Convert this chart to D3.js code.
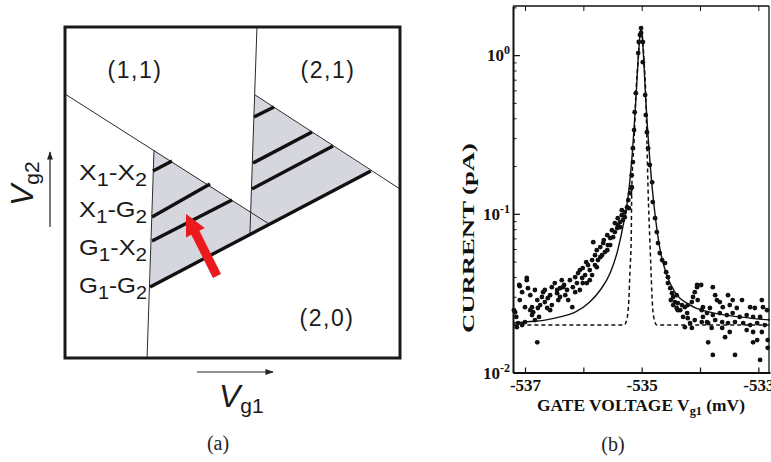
<!DOCTYPE html>
<html><head><meta charset="utf-8">
<script src="https://cdn.jsdelivr.net/npm/d3@7"></script>
<style>body{margin:0;background:#fff;} svg{display:block;}</style>
</head><body>
<svg id="c" width="771" height="462"></svg>
<script>
// ===================== Panel (a): charge-stability schematic (Vg1, Vg2 in arbitrary units 0..10)
const thinLines = [
  [[2.657, 6.284], [2.45, 0]],
  [[0, 7.976], [6.09, 4.05]],
  [[5.73, 10], [5.52, 3.75]],
  [[5.67, 7.95], [10, 5.106]]
];
const thickLines = [
  [[2.54, 2.145], [9.13, 5.65]],
  [[2.627, 5.65], [3.194, 5.95]],
  [[2.597, 4.26], [4.328, 5.257]],
  [[2.597, 3.535], [4.985, 4.773]],
  [[5.642, 7.281], [6.239, 7.583]],
  [[5.612, 5.891], [7.373, 6.828]],
  [[5.582, 5.106], [8.0, 6.405]]
];
const shadedRegions = [
  [[2.657, 6.284], [6.09, 4.05], [2.54, 2.145]],
  [[5.67, 7.95], [9.13, 5.65], [5.52, 3.75]]
];
const chargeStates = ["(1,1)", "(2,1)", "(2,0)"];
const chargeStateVg1 = [2.09, 7.85, 7.82];
const chargeStateVg2 = [8.70, 8.70, 1.21];
const transitionLabels = [["X","1","X","2"], ["X","1","G","2"], ["G","1","X","2"], ["G","1","G","2"]];
const transitionVg2 = [5.38, 4.26, 3.11, 1.96];
const transitionVg1 = 2.45;
const arrowTail = [4.537, 2.477];
const arrowTip = [3.612, 4.35];

// ===================== Panel (b): current vs gate voltage
const xTicksB = [-537, -536, -535, -534, -533];
const xTickLabelsB = [-537, -535, -533];
const yDecades = [0.01, 0.1, 1];
const yDecadeExp = ["-2", "-1", "0"];

const leftTail = [
[-537.19,0.0247],[-537.17,0.0240],[-537.15,0.0224],[-537.14,0.0193],[-537.12,0.0205],[-537.10,0.0356],[-537.09,0.0286],[-537.09,0.0350],[-537.05,0.0199],[-537.05,0.0321],[-537.00,0.0208],[-537.00,0.0258],[-536.97,0.0382],[-536.97,0.0394],[-536.95,0.0340],[-536.91,0.0307],[-536.91,0.0247],[-536.88,0.0258],[-536.88,0.0230],[-536.86,0.0240],[-536.83,0.0331],[-536.83,0.0214],[-536.79,0.0286],[-536.79,0.0155],[-536.78,0.0255],[-536.76,0.0224],[-536.74,0.0266],[-536.71,0.0299],[-536.69,0.0321],[-536.66,0.0278],[-536.66,0.0331],[-536.62,0.0255],[-536.61,0.0294],[-536.57,0.0307],[-536.57,0.0247],[-536.54,0.0266],[-536.54,0.0345],[-536.49,0.0366],[-536.45,0.0316],[-536.45,0.0331],[-536.43,0.0286],[-536.40,0.0340],[-536.40,0.0299],[-536.37,0.0382],[-536.35,0.0345],[-536.33,0.0356],[-536.31,0.0307],[-536.28,0.0331],[-536.26,0.0286],[-536.23,0.0382],[-536.19,0.0258],[-536.18,0.0345],[-536.14,0.0399],[-536.14,0.0321],[-536.11,0.0366],[-536.09,0.0423],[-536.06,0.0331],[-536.06,0.0442],[-536.02,0.0394],[-536.01,0.0455],[-536.01,0.0366],[-535.97,0.0411],[-535.95,0.0496],[-535.94,0.0366],[-535.92,0.0475],[-535.89,0.0442],[-535.89,0.0382],[-535.85,0.0511],[-535.85,0.0411],[-535.83,0.0663],[-535.80,0.0549],[-535.80,0.0475],[-535.77,0.0461],[-535.77,0.0590],[-535.75,0.0511],[-535.71,0.0617],[-535.71,0.0533],[-535.68,0.0549],[-535.66,0.0654],[-535.65,0.0683],[-535.63,0.0574],[-535.59,0.0734],[-535.59,0.0590],[-535.58,0.0635],[-535.54,0.0703],[-535.54,0.0635],[-535.51,0.0789],[-535.49,0.0713],[-535.46,0.0874],[-535.46,0.0767],[-535.42,0.0813],[-535.41,0.0939],[-535.41,0.0850],[-535.37,0.0887],[-535.37,0.0824],[-535.34,0.0981],[-535.34,0.1055],[-535.32,0.0913],[-535.29,0.1025],[-535.29,0.0953],[-535.25,0.110],[-535.23,0.122],[-535.20,0.135],[-535.17,0.147]
];
const peakDots = [
[-535.22,0.1086],[-535.18,0.145],[-535.17,0.175],[-535.15,0.212],[-535.15,0.259],[-535.13,0.337],[-535.12,0.437],[-535.10,0.576],[-535.06,1.03],[-535.05,1.21],[-535.03,1.34],[-535.01,1.48],[-535.01,1.38],[-534.98,1.21],[-534.98,0.903],[-534.94,0.560],[-534.93,0.419],[-534.91,0.327],[-534.89,0.259],[-534.86,0.203],[-534.82,0.158],[-534.81,0.1185],[-534.77,0.0939],[-534.74,0.0767]
];
const rightTail = [
[-534.72,0.0654],[-534.69,0.0566],[-534.65,0.0511],[-534.60,0.0489],[-534.58,0.0429],[-534.55,0.0399],[-534.55,0.0366],[-534.51,0.0340],[-534.50,0.0286],[-534.48,0.0316],[-534.46,0.0299],[-534.46,0.0266],[-534.43,0.0278],[-534.40,0.0307],[-534.40,0.0255],[-534.38,0.0274],[-534.38,0.0247],[-534.34,0.0247],[-534.31,0.0266],[-534.29,0.0224],[-534.26,0.0258],[-534.26,0.0193],[-534.22,0.0237],[-534.21,0.0266],[-534.21,0.0220],[-534.17,0.0205],[-534.14,0.0278],[-534.14,0.0191],[-534.12,0.0299],[-534.09,0.0321],[-534.09,0.0214],[-534.05,0.0345],[-534.05,0.0356],[-534.04,0.0286],[-533.98,0.0356],[-533.97,0.0247],[-533.97,0.0208],[-533.95,0.0224],[-533.95,0.0258],[-533.88,0.0208],[-533.88,0.0237],[-533.86,0.0155],[-533.86,0.0205],[-533.83,0.0255],[-533.80,0.0191],[-533.78,0.0345],[-533.78,0.0230],[-533.78,0.0129],[-533.74,0.0307],[-533.74,0.0214],[-533.71,0.0286],[-533.66,0.0278],[-533.66,0.0237],[-533.62,0.0208],[-533.62,0.0191],[-533.61,0.0258],[-533.57,0.0167],[-533.54,0.0230],[-533.52,0.0307],[-533.52,0.0205],[-533.49,0.0266],[-533.49,0.0180],[-533.44,0.0286],[-533.44,0.0237],[-533.40,0.0208],[-533.40,0.0129],[-533.37,0.0255],[-533.32,0.0224],[-533.28,0.0286],[-533.26,0.0205],[-533.20,0.0230],[-533.20,0.0185],[-533.14,0.0258],[-533.14,0.0199],[-533.09,0.0224],[-533.09,0.0180],[-533.09,0.0155],[-533.06,0.0255],[-533.02,0.0205],[-533.02,0.0160],[-532.97,0.0224],[-532.97,0.0120],[-532.94,0.0286],[-532.94,0.0180],[-532.92,0.0258],[-532.89,0.0199],[-532.85,0.0247],[-532.84,0.0160],[-532.84,0.0143]
];
const solidFit = [
[-537.2,0.0205],[-537.0,0.0208],[-536.66,0.0214],[-536.40,0.0224],[-536.14,0.0240],[-535.89,0.0278],[-535.71,0.0331],[-535.54,0.0423],[-535.41,0.0590],[-535.30,0.0913],[-535.23,0.131],[-535.17,0.218],[-535.10,0.520],[-535.05,1.075],[-535.01,1.48],[-534.98,1.156],[-534.93,0.520],[-534.86,0.218],[-534.77,0.0981],[-534.69,0.0609],[-534.57,0.0411],[-534.43,0.0321],[-534.17,0.0266],[-533.83,0.0240],[-533.32,0.0224],[-532.80,0.0214]
];
const dashedFit = [
[-537.2,0.0199],[-535.30,0.0199],[-535.25,0.0220],[-535.22,0.0286],[-535.20,0.0442],[-535.18,0.0683],[-535.17,0.141],[-535.13,0.291],[-535.10,0.560],[-535.06,0.930],[-535.03,1.34],[-535.01,1.44],[-534.99,1.34],[-534.96,0.930],[-534.93,0.560],[-534.91,0.291],[-534.89,0.141],[-534.86,0.0683],[-534.84,0.0442],[-534.82,0.0286],[-534.79,0.0220],[-534.74,0.0199],[-532.80,0.0199]
];

const svg = d3.select("#c");
const SANS = "'Liberation Sans', Arial, Helvetica, sans-serif";
const SERIF = "'Liberation Serif', 'Times New Roman', serif";

// ---------- Panel (a)
const xA = d3.scaleLinear().domain([0, 10]).range([65, 400]);
const yA = d3.scaleLinear().domain([0, 10]).range([358, 27]);
const gA = svg.append("g");

gA.selectAll("polygon.shade").data(shadedRegions).join("polygon")
  .attr("class", "shade")
  .attr("points", d => d.map(p => [xA(p[0]), yA(p[1])].join(",")).join(" "))
  .attr("fill", "#d6d6de");

gA.selectAll("line.thin").data(thinLines).join("line")
  .attr("class", "thin")
  .attr("x1", d => xA(d[0][0])).attr("y1", d => yA(d[0][1]))
  .attr("x2", d => xA(d[1][0])).attr("y2", d => yA(d[1][1]))
  .attr("stroke", "#2a2a2a").attr("stroke-width", 1);

gA.selectAll("line.thick").data(thickLines).join("line")
  .attr("class", "thick")
  .attr("x1", d => xA(d[0][0])).attr("y1", d => yA(d[0][1]))
  .attr("x2", d => xA(d[1][0])).attr("y2", d => yA(d[1][1]))
  .attr("stroke", "#111").attr("stroke-width", 3.4);

gA.append("rect")
  .attr("x", xA(0)).attr("y", yA(10))
  .attr("width", xA(10) - xA(0)).attr("height", yA(0) - yA(10))
  .attr("fill", "none").attr("stroke", "#1a1a1a").attr("stroke-width", 3);

gA.selectAll("text.state").data(chargeStates).join("text")
  .attr("class", "state")
  .attr("x", (d, i) => xA(chargeStateVg1[i]))
  .attr("y", (d, i) => yA(chargeStateVg2[i]) + 8)
  .attr("text-anchor", "middle")
  .attr("font-family", SANS).attr("font-size", 23).attr("letter-spacing", 1.5)
  .attr("fill", "#1a1a1a")
  .text(d => d);

transitionLabels.forEach((lab, i) => {
  const t = gA.append("text")
    .attr("x", xA(transitionVg1)).attr("y", yA(transitionVg2[i]))
    .attr("text-anchor", "end")
    .attr("font-family", SANS).attr("font-size", 22).attr("fill", "#1a1a1a")
    .attr("textLength", 68).attr("lengthAdjust", "spacingAndGlyphs");
  t.append("tspan").text(lab[0]);
  t.append("tspan").attr("font-size", 18).attr("dy", 6).text(lab[1]);
  t.append("tspan").attr("dy", -6).text("-" + lab[2]);
  t.append("tspan").attr("font-size", 18).attr("dy", 6).text(lab[3]);
});

// red arrow
(function () {
  const S = [xA(arrowTail[0]), yA(arrowTail[1])];
  const T = [xA(arrowTip[0]), yA(arrowTip[1])];
  const dx = T[0] - S[0], dy = T[1] - S[1], L = Math.hypot(dx, dy);
  const ux = dx / L, uy = dy / L, nx = -uy, ny = ux;
  const hl = 21, hw = 10.5, sw = 4.5;
  const H = [T[0] - ux * hl, T[1] - uy * hl];
  const pts = [
    [S[0] + nx * sw, S[1] + ny * sw], [H[0] + nx * sw, H[1] + ny * sw], [H[0] + nx * hw, H[1] + ny * hw],
    T, [H[0] - nx * hw, H[1] - ny * hw], [H[0] - nx * sw, H[1] - ny * sw], [S[0] - nx * sw, S[1] - ny * sw]
  ];
  gA.append("polygon").attr("points", pts.map(p => p.join(",")).join(" ")).attr("fill", "#ea1a1f");
})();

// axis arrows and labels
const defs = svg.append("defs");
defs.append("marker").attr("id", "ah").attr("viewBox", "0 0 10 10").attr("refX", 9).attr("refY", 5)
  .attr("markerWidth", 7).attr("markerHeight", 7).attr("orient", "auto")
  .append("path").attr("d", "M0,1.5 L10,5 L0,8.5 z").attr("fill", "#222");
gA.append("line").attr("x1", 197).attr("y1", 372).attr("x2", 273).attr("y2", 372)
  .attr("stroke", "#222").attr("stroke-width", 1.2).attr("marker-end", "url(#ah)");
gA.append("line").attr("x1", 50).attr("y1", 227).attr("x2", 50).attr("y2", 152)
  .attr("stroke", "#222").attr("stroke-width", 1.2).attr("marker-end", "url(#ah)");

const vg1 = gA.append("text").attr("x", 219).attr("y", 407)
  .attr("font-family", SANS).attr("font-size", 32).attr("fill", "#1a1a1a");
vg1.append("tspan").attr("font-style", "italic").text("V");
vg1.append("tspan").attr("font-size", 21).attr("dy", 6).text("g1");

const vg2 = gA.append("text").attr("transform", "translate(33,206) rotate(-90)")
  .attr("font-family", SANS).attr("font-size", 32).attr("fill", "#1a1a1a");
vg2.append("tspan").attr("font-style", "italic").text("V");
vg2.append("tspan").attr("font-size", 21).attr("dy", 6).text("g2");

svg.append("text").attr("x", 218).attr("y", 450).attr("text-anchor", "middle")
  .attr("font-family", SERIF).attr("font-size", 20).attr("fill", "#222").text("(a)");

// ---------- Panel (b)
const xB = d3.scaleLinear().domain([-537.206, -532.80]).range([513, 770]);
const yB = d3.scaleLog().domain([0.01, 2.04]).range([372.5, 6]);
const gB = svg.append("g");
const [bx0, bx1] = xB.range();
const [by0, by1] = yB.range();

// top & right borders
gB.append("line").attr("x1", bx0).attr("x2", 769).attr("y1", by1).attr("y2", by1)
  .attr("stroke", "#111").attr("stroke-width", 1.5);
gB.append("line").attr("x1", 769).attr("x2", 769).attr("y1", by1).attr("y2", by0)
  .attr("stroke", "#111").attr("stroke-width", 1.3);

const styleAxis = g => {
  g.select(".domain").attr("stroke", "#111").attr("stroke-width", 2);
  g.selectAll(".tick line").attr("stroke", "#111").attr("stroke-width", 1.2);
  g.selectAll(".tick text").attr("font-family", SERIF).attr("font-size", 17)
    .attr("font-weight", "bold").attr("fill", "#111");
};

gB.append("g").attr("transform", `translate(0,${by0})`)
  .call(d3.axisBottom(xB).tickValues(xTicksB).tickSizeInner(-5).tickSizeOuter(0).tickPadding(6)
    .tickFormat(d => xTickLabelsB.includes(d) ? String(d) : ""))
  .call(styleAxis);
gB.append("g").attr("transform", `translate(0,${by1})`)
  .call(d3.axisTop(xB).tickValues(xTicksB).tickSizeInner(-5).tickSizeOuter(0).tickFormat(""))
  .call(g => { g.select(".domain").remove(); g.selectAll(".tick line").attr("stroke", "#111"); });

const yMinor = [];
yDecades.forEach(dec => { for (let k = 2; k <= 9; k++) { const v = k * dec; if (v <= yB.domain()[1]) yMinor.push(v); } });
gB.append("g").attr("transform", `translate(${bx0},0)`)
  .call(d3.axisLeft(yB).tickValues(yDecades).tickSizeInner(-7).tickSizeOuter(0).tickFormat(""))
  .call(styleAxis);
gB.append("g").attr("transform", `translate(${bx0},0)`)
  .call(d3.axisLeft(yB).tickValues(yMinor).tickSizeInner(-3.5).tickSizeOuter(0).tickFormat(""))
  .call(g => { g.select(".domain").remove(); g.selectAll(".tick line").attr("stroke", "#111"); });

yDecades.forEach((d, i) => {
  const t = gB.append("text").attr("x", bx0 - 3).attr("y", yB(d) + 6)
    .attr("text-anchor", "end").attr("font-family", SERIF).attr("font-size", 17)
    .attr("font-weight", "bold").attr("fill", "#111");
  t.append("tspan").text("10");
  t.append("tspan").attr("font-size", 12).attr("dy", -7).text(yDecadeExp[i]);
});

// curves
const lineB = d3.line().x(d => xB(d[0])).y(d => yB(d[1])).curve(d3.curveMonotoneX);
gB.append("path").attr("d", lineB(dashedFit)).attr("fill", "none")
  .attr("stroke", "#111").attr("stroke-width", 1.5).attr("stroke-dasharray", "4,3");
gB.append("path").attr("d", lineB(solidFit)).attr("fill", "none")
  .attr("stroke", "#111").attr("stroke-width", 1.4);

// data dots
const allDots = leftTail.concat(peakDots, rightTail);
gB.selectAll("circle.dot").data(allDots).join("circle")
  .attr("class", "dot")
  .attr("cx", d => xB(d[0])).attr("cy", d => yB(d[1])).attr("r", 2.4)
  .attr("fill", "#111");

// titles
gB.append("text").attr("transform", "translate(474,238) rotate(-90)")
  .attr("text-anchor", "middle").attr("font-family", SERIF).attr("font-size", 17)
  .attr("font-weight", "bold").attr("fill", "#111")
  .attr("textLength", 190).attr("lengthAdjust", "spacingAndGlyphs")
  .text("CURRENT (pA)");

const xt = gB.append("text").attr("x", 641).attr("y", 411).attr("text-anchor", "middle")
  .attr("font-family", SERIF).attr("font-size", 17).attr("font-weight", "bold").attr("fill", "#111")
  .attr("textLength", 208).attr("lengthAdjust", "spacingAndGlyphs");
xt.append("tspan").text("GATE VOLTAGE V");
xt.append("tspan").attr("font-size", 12).attr("dy", 4).text("g1");
xt.append("tspan").attr("dy", -4).text(" (mV)");

svg.append("text").attr("x", 613).attr("y", 451).attr("text-anchor", "middle")
  .attr("font-family", SERIF).attr("font-size", 20).attr("fill", "#222").text("(b)");
</script>
</body></html>
